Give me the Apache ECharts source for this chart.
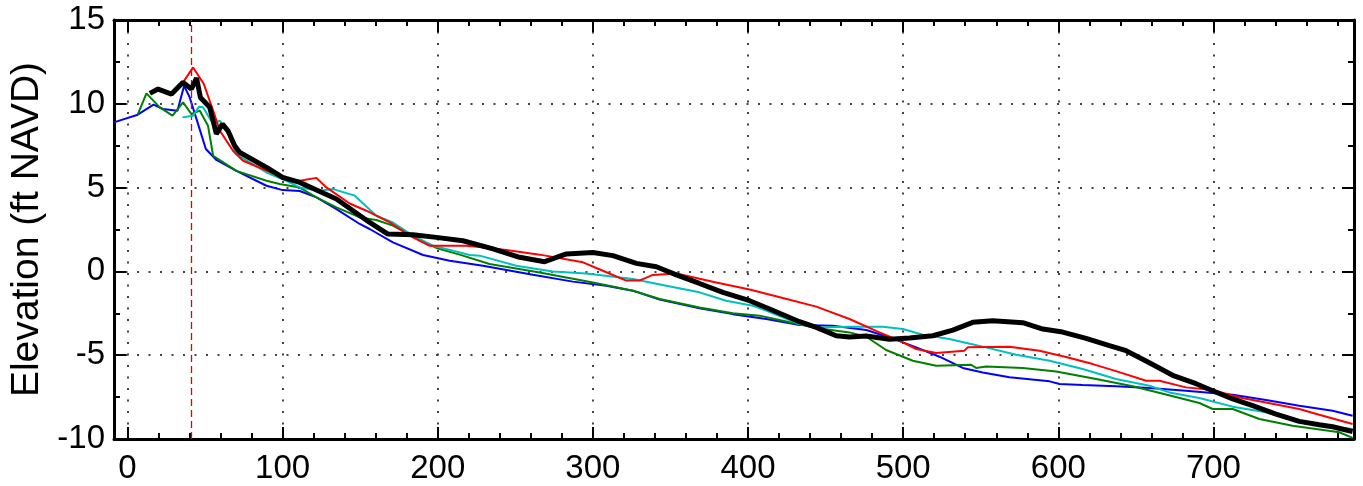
<!DOCTYPE html>
<html><head><meta charset="utf-8">
<script src="https://cdn.jsdelivr.net/npm/echarts@6/dist/echarts.min.js"></script>
<style>html,body{margin:0;padding:0;background:#fff}#c{width:1363px;height:486px}</style>
</head><body><div id="c"></div>
<script>
// ---- data (distance along profile, elevation ft NAVD) ----
const xMin = -8.7, xMax = 790.6;
const yMin = -10, yMax = 15;
const xTicks = [0, 100, 200, 300, 400, 500, 600, 700];
const xMinorTicks = [20,40,60,80,120,140,160,180,220,240,260,280,320,340,360,380,420,440,460,480,520,540,560,580,620,640,660,680,720,740,760,780];
const yTicks = [-10, -5, 0, 5, 10, 15];
const refLineX = 41;
const yAxisTitle = 'Elevation (ft NAVD)';

const blackLine = [[14.4,10.62],[19.7,10.88],[28.4,10.58],[35.8,11.28],[41.2,10.88],[44.5,11.54],[47,10.38],[53,9.79],[57.3,8.2],[61.2,8.79],[64.8,8.39],[69.1,7.5],[72.4,7.1],[89.6,6.2],[100,5.61],[111,5.31],[121.8,4.86],[134.7,4.32],[145.4,3.62],[156.1,2.92],[167.9,2.23],[184,2.19],[199.1,2.03],[216.2,1.83],[235.6,1.34],[252.8,0.84],[268.9,0.58],[282.9,1.04],[300,1.13],[312.9,0.94],[328,0.48],[340.9,0.28],[353.8,-0.21],[368.7,-0.72],[383.8,-1.25],[401,-1.75],[413.9,-2.24],[433.2,-3.0],[444,-3.34],[456.8,-3.84],[465.4,-3.92],[476.2,-3.86],[491.2,-4.05],[504.1,-3.98],[519.1,-3.84],[532,-3.5],[544.9,-3.04],[557.7,-2.94],[577.1,-3.06],[590,-3.44],[602.8,-3.62],[617.9,-4.0],[632.9,-4.43],[643.7,-4.73],[658.7,-5.45],[673.7,-6.2],[688.8,-6.7],[699.5,-7.12],[712.4,-7.61],[725.3,-8.01],[740.3,-8.51],[755.3,-8.95],[768.2,-9.15],[776.8,-9.27],[789.7,-9.55]];

const redLine = [[35.8,11.28],[42.3,12.17],[49.2,11.18],[55.2,9.59],[59.5,8.4],[68,7.2],[74.5,6.6],[100,5.61],[111,5.41],[121.8,5.58],[128.2,5.01],[143.2,4.05],[154,3.62],[169,2.92],[184,2.03],[194.8,1.53],[205.5,1.53],[218.4,1.53],[227,1.45],[244.2,1.28],[265.7,1.0],[293.6,0.54],[306.4,0.04],[321.5,-0.55],[330,-0.55],[338.6,-0.21],[353.8,-0.12],[379.5,-0.66],[401,-1.08],[422.4,-1.59],[444,-2.1],[465.4,-2.84],[484.7,-3.64],[497.6,-4.13],[508.4,-4.63],[521.3,-4.87],[539.5,-4.73],[541.6,-4.53],[568.5,-4.49],[587.8,-4.73],[605,-5.11],[622.2,-5.53],[637.2,-5.95],[656.6,-6.52],[665.1,-6.52],[682.3,-6.92],[699.5,-7.08],[716.7,-7.52],[733.9,-7.82],[755.3,-8.21],[768.2,-8.55],[789.7,-9.1]];

const cyanLine = [[35.4,9.19],[42.3,9.29],[46.1,9.83],[48.7,9.79],[55.2,8.79],[59.5,8.99],[64.8,8.2],[70.2,7.0],[89.6,5.9],[100,5.5],[111,5.01],[124,4.81],[132.5,4.91],[146.5,4.52],[160.4,3.32],[171.1,2.92],[184,2.13],[196.9,1.53],[209.8,1.24],[220.5,0.98],[227,0.94],[250.6,0.34],[274.2,0.0],[295.7,-0.12],[325.8,-0.45],[347.3,-0.85],[368.7,-1.25],[385.9,-1.75],[403.1,-2.05],[411.7,-2.34],[422.4,-2.74],[433.2,-3.14],[444,-3.34],[465.4,-3.3],[486.9,-3.3],[499.8,-3.44],[512.6,-3.78],[529.8,-4.03],[551.3,-4.49],[572.8,-4.97],[594.4,-5.33],[615.7,-5.82],[637.2,-6.42],[658.7,-6.82],[671.6,-7.22],[690.9,-7.55],[712.4,-8.07],[733.9,-8.41],[751,-8.81],[768.2,-9.21],[789.7,-9.4]];

const greenLine = [[6.6,9.35],[12.2,10.62],[20.8,9.79],[29,9.29],[35.8,10.08],[41.2,9.39],[46.6,9.59],[51.9,8.69],[55.2,6.9],[70.2,6.0],[89.6,5.41],[98.1,5.21],[111,5.0],[121.8,4.42],[134.7,3.82],[149.7,3.22],[160.4,3.07],[171.1,2.73],[184,2.07],[199.1,1.4],[214.1,1.0],[233.4,0.44],[265.7,-0.06],[300,-0.66],[325.8,-1.15],[343,-1.65],[368.7,-2.15],[390.2,-2.5],[407.4,-2.64],[422.4,-2.94],[444,-3.38],[465.4,-3.64],[476.2,-3.9],[489,-4.69],[506.2,-5.33],[521.3,-5.63],[543.8,-5.57],[547,-5.76],[553.5,-5.67],[577.1,-5.76],[598.6,-5.97],[624.4,-6.42],[648,-6.85],[669.4,-7.34],[690.9,-7.85],[699.5,-8.21],[712.4,-8.21],[729.6,-8.81],[751,-9.21],[766.1,-9.4],[781.1,-9.6],[789.7,-9.93]];

const blueLine = [[-8.8,8.89],[6.6,9.35],[16.8,9.95],[22.8,9.69],[32.2,9.59],[36.5,11.08],[40.1,10.38],[45.5,8.79],[50.5,7.3],[57.3,6.65],[70.2,6.0],[89.6,5.11],[100,4.85],[111,4.8],[121.8,4.42],[134.7,3.72],[149.7,2.83],[156.1,2.53],[171.1,1.73],[190.5,0.98],[207.7,0.64],[229.1,0.34],[261.3,-0.2],[287.1,-0.61],[308.6,-0.85],[325.8,-1.15],[343,-1.68],[368.7,-2.2],[390.2,-2.55],[411.7,-2.84],[433.2,-3.2],[454.6,-3.24],[476.2,-3.5],[491.2,-3.94],[508.4,-4.53],[523.4,-5.09],[538.4,-5.76],[551.3,-6.03],[568.5,-6.32],[594.4,-6.56],[600.8,-6.72],[615.7,-6.78],[637.2,-6.86],[658.7,-6.96],[682.3,-7.12],[712.4,-7.36],[733.9,-7.67],[755.3,-8.01],[776.8,-8.31],[789.7,-8.61]];

// ---- chart ----
const FONT = '"Liberation Sans Narrow", "Arial Narrow", "Liberation Sans", sans-serif';
const AXC = '#000';
const gridDot = { show: true, lineStyle: { color: '#444', width: 2, type: [2, 9.5] } };

function xAx(pos, ticks, len, withLine, labels, split) {
  return {
    type: 'value', position: pos, min: xMin, max: xMax, gridIndex: 0,
    axisLine: { show: withLine, onZero: false, lineStyle: { color: AXC, width: 3 } },
    axisTick: { show: true, inside: true, length: len, customValues: ticks, lineStyle: { color: AXC, width: 2 } },
    axisLabel: labels ? { show: true, customValues: ticks, color: '#000', fontSize: 33, fontFamily: FONT, margin: 13 } : { show: false },
    splitLine: split ? gridDot : { show: false },
    minorTick: { show: false }
  };
}
function yAx(pos, labels, split) {
  return {
    type: 'value', position: pos, min: yMin, max: yMax, interval: 5, gridIndex: 0,
    axisLine: { show: true, onZero: false, lineStyle: { color: AXC, width: 3 } },
    axisTick: { show: true, inside: true, length: 12, lineStyle: { color: AXC, width: 2 } },
    minorTick: { show: true, splitNumber: 2, length: 6, lineStyle: { color: AXC, width: 2 } },
    axisLabel: labels ? { show: true, color: '#000', fontSize: 33, fontFamily: FONT, margin: 9 } : { show: false },
    splitLine: split ? gridDot : { show: false },
    name: labels ? yAxisTitle : '',
    nameLocation: 'middle', nameGap: 65, nameRotate: 90,
    nameTextStyle: { color: '#000', fontSize: 39, fontFamily: FONT }
  };
}
function line(data, color, width, z) {
  return { type: 'line', data: data, xAxisIndex: 0, yAxisIndex: 0, showSymbol: false, symbol: 'none',
           lineStyle: { color: color, width: width }, itemStyle: { color: color }, z: z, animation: false, silent: true };
}

const chart = echarts.init(document.getElementById('c'), null, { renderer: 'canvas' });
chart.setOption({
  animation: false,
  backgroundColor: '#fff',
  grid: { left: 114, right: 9, top: 20, bottom: 47, containLabel: false, outerBoundsMode: 'none' },
  xAxis: [
    xAx('bottom', xTicks, 12, true, true, true),
    xAx('bottom', xMinorTicks, 6, false, false, false),
    xAx('top', xTicks, 12, true, false, false),
    xAx('top', xMinorTicks, 6, false, false, false)
  ],
  yAxis: [ yAx('left', true, true), yAx('right', false, false) ],
  series: [
    line(blueLine, '#0000ff', 2, 3),
    line(greenLine, '#008000', 2, 4),
    line(cyanLine, '#00bfbf', 2, 5),
    line(redLine, '#ff0000', 2, 6),
    line(blackLine, '#000000', 5, 7),
    {
      type: 'line', data: [], xAxisIndex: 0, yAxisIndex: 0, z: 2, silent: true,
      itemStyle: { color: '#e00000' }, lineStyle: { color: '#e00000' },
      markLine: { silent: true, symbol: ['none', 'none'], label: { show: false }, animation: false,
        itemStyle: { color: '#e00000' },
        lineStyle: { color: '#e00000', width: 1.3, type: [7, 4], opacity: 1 },
        data: [{ xAxis: refLineX, lineStyle: { color: '#e00000' } }] }
    }
  ]
});
</script></body></html>
